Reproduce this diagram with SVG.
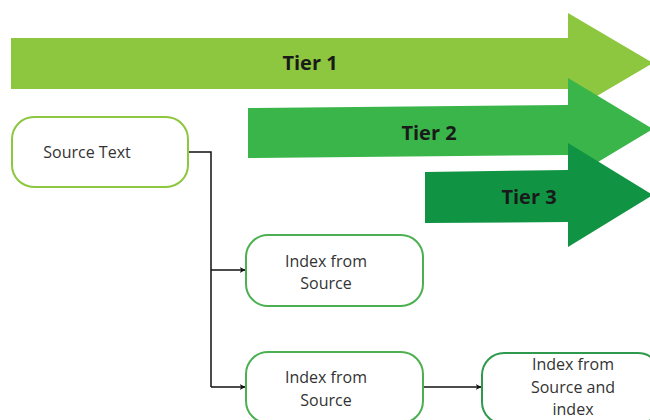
<svg xmlns="http://www.w3.org/2000/svg" width="650" height="420" viewBox="0 0 650 420">
  <defs>
    <style>
      .tier { font-family: "Open Sans", "Liberation Sans", sans-serif; font-weight: 700; font-size: 20px; fill: #1a1a1a; text-anchor: middle; }
      .lbl { font-family: "Open Sans", "Liberation Sans", sans-serif; font-size: 16px; fill: #333333; text-anchor: middle; }
      .box { fill: #ffffff; stroke-width: 2; }
      .conn { fill: none; stroke: #111111; stroke-width: 1.5; }
    </style>
    <marker id="arr" viewBox="0 0 10 10" refX="9" refY="5" markerWidth="6" markerHeight="6" orient="auto" markerUnits="userSpaceOnUse">
      <path d="M0,0 L10,5 L0,10 L3,5 Z" fill="#111111"/>
    </marker>
  </defs>
  <rect width="650" height="420" fill="#ffffff"/>

  <g id="tier1">
    <polygon points="11,38 568,38 568,13 653,63 568,113 568,89 11,89" fill="#8dc63f"/>
    <text class="tier" x="310" y="70">Tier 1</text>
  </g>
  <g id="tier2">
    <polygon points="248,108 568,105 568,78 653,129 568,180 568,155 248,158" fill="#39b54a"/>
    <text class="tier" x="429" y="140">Tier 2</text>
  </g>
  <g id="tier3">
    <polygon points="425,172 568,170 568,143 653,195 568,247 568,222 425,223" fill="#109444"/>
    <text class="tier" x="529" y="204">Tier 3</text>
  </g>

  <g id="connectors">
    <path class="conn" d="M188,152 H211 V387"/>
    <path class="conn" d="M211,270 H245" marker-end="url(#arr)"/>
    <path class="conn" d="M211,387 H245" marker-end="url(#arr)"/>
    <path class="conn" d="M423,387 H481" marker-end="url(#arr)"/>
  </g>

  <g id="source-text">
    <rect class="box" x="12" y="117" width="176" height="70" rx="22" stroke="#8dc63f"/>
    <text class="lbl" x="87" y="158">Source Text</text>
  </g>
  <g id="index-from-source-1">
    <rect class="box" x="246" y="235" width="177" height="71" rx="22" stroke="#4cb050"/>
    <text class="lbl" x="326" y="267">Index from</text>
    <text class="lbl" x="326" y="289">Source</text>
  </g>
  <g id="index-from-source-2">
    <rect class="box" x="246" y="352" width="177" height="71" rx="22" stroke="#4cb050"/>
    <text class="lbl" x="326" y="383">Index from</text>
    <text class="lbl" x="326" y="406">Source</text>
  </g>
  <g id="index-from-source-and-index">
    <rect class="box" x="482" y="353" width="178" height="71" rx="22" stroke="#2f9a4c"/>
    <text class="lbl" x="573" y="370">Index from</text>
    <text class="lbl" x="573" y="393">Source and</text>
    <text class="lbl" x="573" y="415">index</text>
  </g>
</svg>
